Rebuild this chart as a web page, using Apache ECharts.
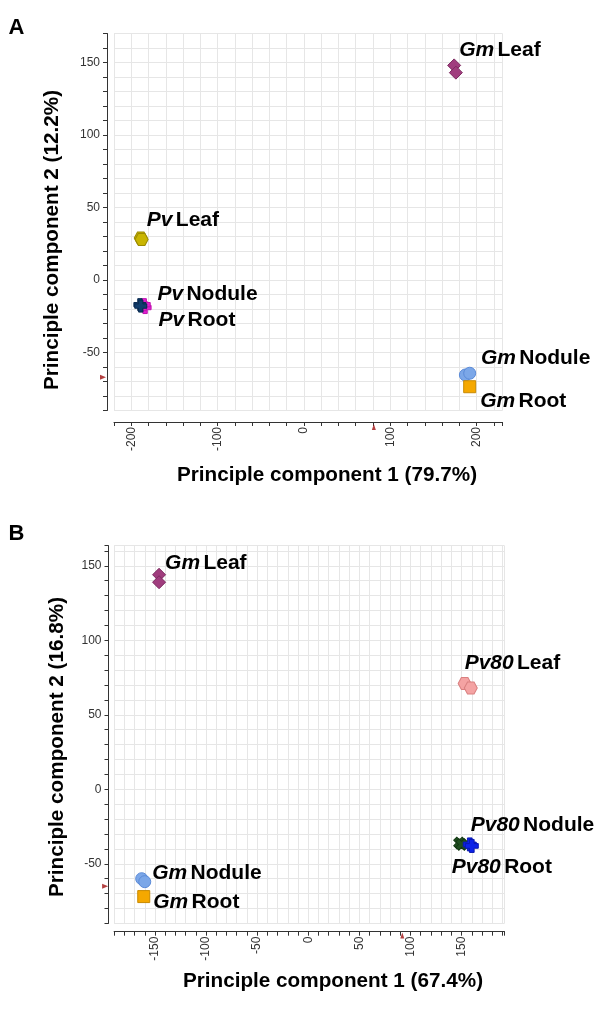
<!DOCTYPE html>
<html>
<head>
<meta charset="utf-8">
<script src="https://cdn.jsdelivr.net/npm/echarts@6/dist/echarts.min.js"></script>
<style>
html,body{margin:0;padding:0;background:#fff;}
#chart{width:600px;height:1013px;}
</style>
</head>
<body>
<div id="chart"></div>
<script>
// ---------- Panel A data (PC1, PC2) ----------
const aGmLeaf   = [[174, 148], [176, 143]];
const aPvLeaf   = [[-189, 29], [-188, 28]];
const aPvRoot   = [[-184, -19], [-185, -17]];
const aPvNodule = [[-190, -17], [-189, -18]];
const aGmNodule = [[187, -65.5], [192, -64.3]];
const aGmRoot   = [[192, -73.6]];
const aOrigin   = [81, -67];          // red axis markers (x value, y value)
const aXRange   = [-220, 230];
const aYRange   = [-90, 170];
const aXLabelStep = 100, aYLabelStep = 50;
const aXTitle = 'Principle component 1 (79.7%)';
const aYTitle = 'Principle component 2 (12.2%)';

// ---------- Panel B data ----------
const bGmLeaf     = [[-146, 144], [-146, 139]];
const bPv80Leaf   = [[153, 71], [159, 68]];
const bPv80Nodule = [[148, -36], [150, -37]];
const bPv80Root   = [[158, -37], [160, -38]];
const bGmNodule   = [[-163, -60], [-160, -62]];
const bGmRoot     = [[-161, -72]];
const bOrigin     = [92, -65];
const bXRange   = [-190, 192];
const bYRange   = [-90, 163.5];
const bXLabelStep = 50, bYLabelStep = 50;
const bXTitle = 'Principle component 1 (67.4%)';
const bYTitle = 'Principle component 2 (16.8%)';

// ---------- styling ----------
const FONT = "'Liberation Sans', Arial, sans-serif";
const HEX = 'path://M-1,-1.732L1,-1.732L2,0L1,1.732L-1,1.732L-2,0Z';
const PLUS = 'path://M-0.9,-2.5H0.9V-0.9H2.5V0.9H0.9V2.5H-0.9V0.9H-2.5V-0.9H-0.9Z';

const rich = {
  i: {fontStyle: 'italic', fontWeight: 'bold', fontSize: 21, color: '#000', fontFamily: FONT},
  b: {fontWeight: 'bold', fontSize: 21, color: '#000', fontFamily: FONT}
};

function pts(gi, data, symbol, size, color, border, label, offset, rot) {
  const d = data.map((v, k) => {
    if (k === 0 && label) {
      return {
        value: v,
        label: {
          show: true, position: 'right', distance: 0, offset: offset,
          formatter: '{i|' + label[0] + '} {b|' + label[1] + '}', rich: rich
        }
      };
    }
    return v;
  });
  return {
    type: 'scatter', xAxisIndex: gi, yAxisIndex: gi, data: d,
    symbol: symbol, symbolSize: size, symbolRotate: rot || 0,
    itemStyle: {color: color, borderColor: border, borderWidth: 1, opacity: 1},
    label: {show: false}, emphasis: {disabled: true}, z: 3
  };
}

function markers(gi, origin, xr, yr, offY, offX) {
  return [
    {type: 'scatter', xAxisIndex: gi, yAxisIndex: gi, clip: false, silent: true,
     data: [[xr[0], origin[1]]], symbol: 'triangle', symbolSize: [5, 6], symbolRotate: -90,
     symbolOffset: [offX, 0], itemStyle: {color: '#a01010'}, z: 4},
    {type: 'scatter', xAxisIndex: gi, yAxisIndex: gi, clip: false, silent: true,
     data: [[origin[0], yr[0]]], symbol: 'triangle', symbolSize: [4, 6],
     symbolOffset: [0, offY], itemStyle: {color: '#a01010'}, z: 4}
  ];
}

function xAx(gi, r, step, off) {
  return {
    type: 'value', gridIndex: gi, min: r[0], max: r[1], interval: step === 100 ? 20 : 10,
    offset: off,
    axisLine: {show: true, onZero: false, lineStyle: {color: '#333', width: 1}},
    axisTick: {show: true, length: 4, lineStyle: {color: '#333'}},
    axisLabel: {rotate: 90, fontSize: 12, color: '#333', margin: 5, fontFamily: FONT,
      formatter: v => (Math.round(v) % step === 0 ? String(Math.round(v)) : '')},
    splitLine: {show: true, lineStyle: {color: '#e6e6e6', width: 1}}
  };
}
function yAx(gi, r, step, off) {
  return {
    type: 'value', gridIndex: gi, min: r[0], max: r[1], interval: 10,
    offset: off,
    axisLine: {show: true, onZero: false, lineStyle: {color: '#333', width: 1}},
    axisTick: {show: true, length: 4, lineStyle: {color: '#333'}},
    axisLabel: {fontSize: 12, color: '#333', margin: 7, fontFamily: FONT,
      formatter: v => (Math.round(v) % step === 0 ? String(Math.round(v)) : '')},
    splitLine: {show: true, lineStyle: {color: '#e6e6e6', width: 1}}
  };
}

function txt(x, y, s, size, rot) {
  return {type: 'text', x: x, y: y, rotation: rot || 0, silent: true,
    style: {text: s, font: 'bold ' + size + 'px ' + FONT, fill: '#000',
      textAlign: 'center', textVerticalAlign: 'middle'}};
}

const option = {
  animation: false,
  backgroundColor: '#fff',
  grid: [
    {left: 114, top: 33.5, width: 388.5, height: 377},
    {left: 114.1, top: 545.7, width: 390.4, height: 377.7}
  ],
  xAxis: [xAx(0, aXRange, aXLabelStep, 11.5), xAx(1, bXRange, bXLabelStep, 8.3)],
  yAxis: [yAx(0, aYRange, aYLabelStep, 7), yAx(1, bYRange, bYLabelStep, 5.6)],
  series: [
    // Panel A
    pts(0, aGmLeaf, 'diamond', 13, '#a03d7e', '#7d2a60', ['Gm', 'Leaf'], [-2, -15]),
    pts(0, aPvLeaf, HEX, [13, 12], '#c9b500', '#9a8a00', ['Pv', 'Leaf'], [-1, -18]),
    pts(0, aPvRoot, PLUS, 12, '#e020d0', '#c010b0', ['Pv', 'Root'], [7, 13]),
    pts(0, aPvNodule, PLUS, 12, '#113d6d', '#0a2a50', ['Pv', 'Nodule'], [11, -10]),
    pts(0, aGmNodule, 'circle', 12, '#7ba7e8', '#5b8bd8', ['Gm', 'Nodule'], [9, -17]),
    pts(0, aGmRoot, 'rect', 12, '#f5a800', '#c88a00', ['Gm', 'Root'], [4, 14]),
    ...markers(0, aOrigin, aXRange, aYRange, 16.5, -11),
    // Panel B
    pts(1, bGmLeaf, 'diamond', 13, '#a03d7e', '#7d2a60', ['Gm', 'Leaf'], [-1, -12]),
    pts(1, bPv80Leaf, HEX, [13, 12], '#f4a3a3', '#d98080', ['Pv80', 'Leaf'], [-7, -20]),
    pts(1, bPv80Nodule, PLUS, 12, '#1e4d1e', '#123812', ['Pv80', 'Nodule'], [2, -18], 45),
    pts(1, bPv80Root, PLUS, 13, '#0c22e8', '#0a18b0', ['Pv80', 'Root'], [-25, 23]),
    pts(1, bGmNodule, 'circle', 12, '#7ba7e8', '#5b8bd8', ['Gm', 'Nodule'], [4, -5]),
    pts(1, bGmRoot, 'rect', 12, '#f5a800', '#c88a00', ['Gm', 'Root'], [3, 6]),
    ...markers(1, bOrigin, bXRange, bYRange, 12, -9)
  ],
  graphic: [
    txt(16.5, 27.5, 'A', 22),
    txt(16.5, 533.5, 'B', 22),
    txt(327, 475, aXTitle, 20.7),
    txt(52.5, 240, aYTitle, 20.7, Math.PI / 2),
    txt(333, 981, bXTitle, 20.7),
    txt(57, 747, bYTitle, 20.7, Math.PI / 2)
  ]
};

const chart = echarts.init(document.getElementById('chart'), null, {renderer: 'canvas'});
chart.setOption(option);
</script>
</body>
</html>
